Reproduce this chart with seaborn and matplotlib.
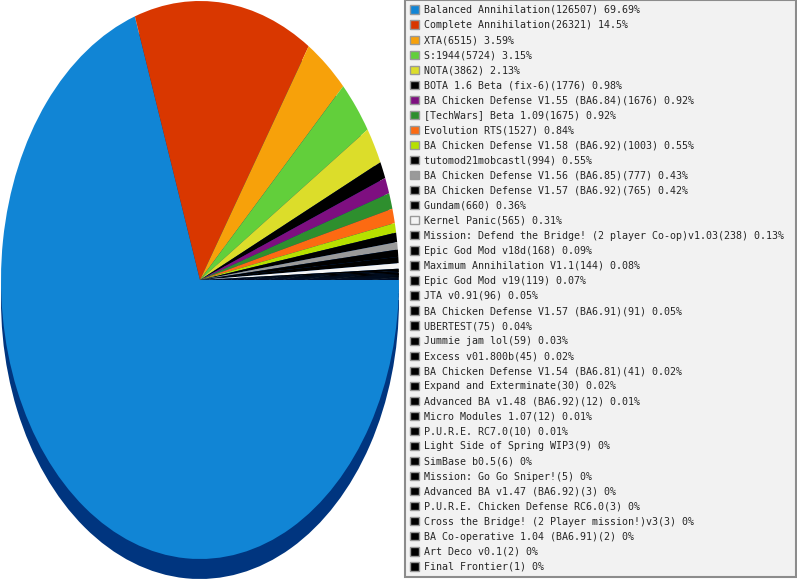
import matplotlib
matplotlib.use("Agg")
import matplotlib.pyplot as plt
import seaborn as sns

# mod names and game counts, as listed in the legend
mods = [
    "Balanced Annihilation", "Complete Annihilation", "XTA", "S:1944", "NOTA",
    "BOTA 1.6 Beta (fix-6)", "BA Chicken Defense V1.55 (BA6.84)", "[TechWars] Beta 1.09",
    "Evolution RTS", "BA Chicken Defense V1.58 (BA6.92)", "tutomod21mobcastl",
    "BA Chicken Defense V1.56 (BA6.85)", "BA Chicken Defense V1.57 (BA6.92)", "Gundam",
    "Kernel Panic", "Mission: Defend the Bridge! (2 player Co-op)v1.03", "Epic God Mod v18d",
    "Maximum Annihilation V1.1", "Epic God Mod v19", "JTA v0.91",
    "BA Chicken Defense V1.57 (BA6.91)", "UBERTEST", "Jummie jam lol", "Excess v01.800b",
    "BA Chicken Defense V1.54 (BA6.81)", "Expand and Exterminate", "Advanced BA v1.48 (BA6.92)",
    "Micro Modules 1.07", "P.U.R.E. RC7.0", "Light Side of Spring WIP3", "SimBase b0.5",
    "Mission: Go Go Sniper!", "Advanced BA v1.47 (BA6.92)", "P.U.R.E. Chicken Defense RC6.0",
    "Cross the Bridge! (2 Player mission!)v3", "BA Co-operative 1.04 (BA6.91)", "Art Deco v0.1",
    "Final Frontier",
]
games = [
    126507, 26321, 6515, 5724, 3862, 1776, 1676, 1675, 1527, 1003, 994, 777, 765, 660,
    565, 238, 168, 144, 119, 96, 91, 75, 59, 45, 41, 30, 12, 12, 10, 9, 6, 5, 3, 3, 3,
    2, 2, 1,
]
colors = [
    "#1185d5", "#d93700", "#f7a10a", "#62cf3b", "#dcdd2a", "#000000", "#7e0f80",
    "#2e8f2e", "#fc6a12", "#b6e000", "#000000", "#9a9a9a", "#000000", "#000000",
    "#f4f4f4",
] + ["#000000"] * 23
depth_color = "#00357f"

total = sum(games)
labels = [f"{m}({g}) {round(100 * g / total, 2):g}%" for m, g in zip(mods, games)]

sns.set_theme(style="white")
plt.rcParams["font.family"] = ["DejaVu Sans Mono", "DejaVu Sans"]

W, H = 797, 580
fig = plt.figure(figsize=(W / 100, H / 100), dpi=100)
fig.patch.set_facecolor("white")

# pie area in pixels: centre (200, 280), radii 199 x 279, depth 20
cx, cy, rx, ry, depth = 200, 280, 199, 279, 20
ax = fig.add_axes([0, 0, 400 / W, 1])
ax.axis("off")

# the pie's depth, drawn as the same pie shifted down
ax.pie(games, colors=[depth_color] * len(games), startangle=0, counterclock=False,
       center=(0, -depth / ry), wedgeprops=dict(linewidth=0), frame=False)
wedges, _ = ax.pie(games, colors=colors, startangle=0, counterclock=False,
                   wedgeprops=dict(linewidth=0), frame=False)
ax.set_xlim(-cx / rx, (400 - cx) / rx)
ax.set_ylim(-(H - cy) / ry, cy / ry)
ax.set_aspect("auto")

leg = fig.legend(wedges, labels, loc="upper left",
                 bbox_to_anchor=(405 / W, 0, 391 / W, 1), mode="expand",
                 borderaxespad=0, fontsize=7.2, labelspacing=0.505,
                 handlelength=0.9, handleheight=0.9, handletextpad=0.45,
                 borderpad=0.5, fancybox=False, framealpha=1,
                 facecolor="#f2f2f2", edgecolor="#8c8c8c")
leg.get_frame().set_linewidth(1.5)
for p in leg.get_patches():
    p.set_edgecolor("#999999")
    p.set_linewidth(1.0)

fig.savefig("out.png", dpi=100)
